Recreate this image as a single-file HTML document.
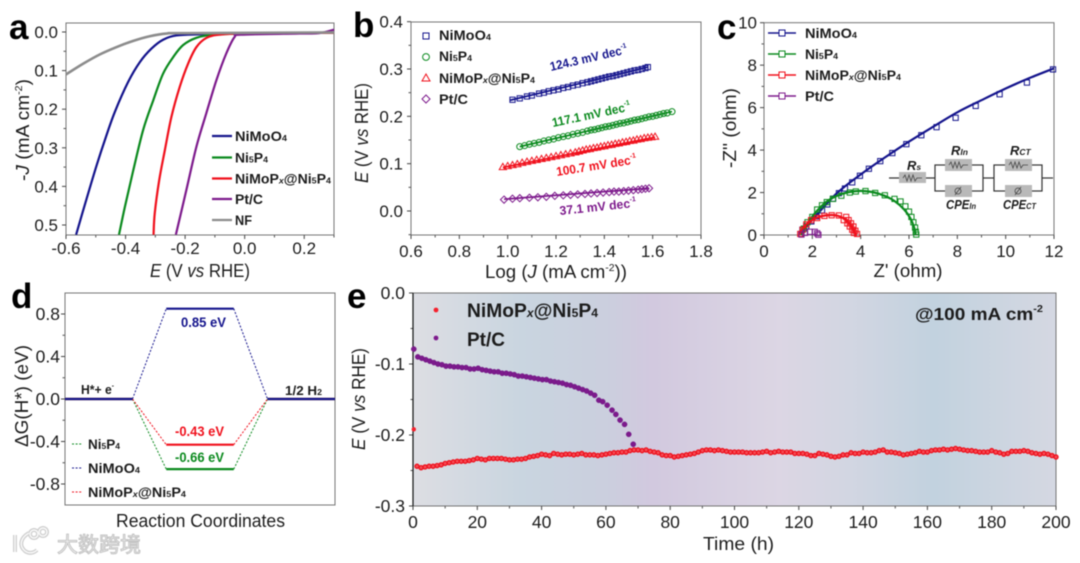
<!DOCTYPE html>
<html lang="en">
<head>
<meta charset="utf-8">
<title>Electrocatalysis chart panels</title>
<style>
html,body{margin:0;padding:0;background:#fff;width:1080px;height:563px;overflow:hidden}
svg{display:block;filter:blur(0.45px)}
text{font-family:"Liberation Sans","Noto Sans CJK SC",sans-serif;fill:#1c1c1c}
.b{font-weight:700}
.t{font-size:18px}
.letter{font-size:35px;font-weight:700;fill:#000}
</style>
</head>
<body>
<svg id="fig" width="1080" height="563" viewBox="0 0 1080 563" xmlns="http://www.w3.org/2000/svg">
<defs>
<linearGradient id="bgE" x1="0" x2="1" y1="0" y2="0">
<stop offset="0" stop-color="#dddee3"/><stop offset="0.17" stop-color="#c9d5e0"/><stop offset="0.30" stop-color="#cbcfde"/><stop offset="0.37" stop-color="#d2c9df"/><stop offset="0.57" stop-color="#dcd6e4"/><stop offset="0.68" stop-color="#d2d6e2"/><stop offset="0.81" stop-color="#c2d2df"/><stop offset="1" stop-color="#d5d8e2"/>
</linearGradient>
</defs>
<rect x="413" y="293" width="643" height="213" fill="url(#bgE)"/>
<g id="plots"></g>

<!-- panel letters -->
<text class="letter" x="9" y="39">a</text>
<text class="letter" x="353" y="37">b</text>
<text class="letter" x="717" y="39">c</text>
<text class="letter" x="11" y="308">d</text>
<text class="letter" x="347" y="308">e</text>

<!-- panel a labels -->
<text class="t" x="150" y="277" textLength="100"><tspan font-style="italic">E</tspan> (V <tspan font-style="italic">vs</tspan> RHE)</text>
<text class="t" transform="translate(29,130) rotate(-90)" text-anchor="middle" textLength="102">-<tspan font-style="italic">J</tspan> (mA cm<tspan font-size="10" dy="-7">-2</tspan><tspan dy="7">)</tspan></text>
<g>
<line x1="212" x2="232" y1="136" y2="136" stroke="#14148c" stroke-width="2.2"/>
<text class="b" x="235" y="141" font-size="13.5" textLength="52">NiMoO<tspan font-size="8.5">4</tspan></text>
<line x1="212" x2="232" y1="157.5" y2="157.5" stroke="#0b8a1e" stroke-width="2.2"/>
<text class="b" x="235" y="162.5" font-size="13.5" textLength="33">Ni<tspan font-size="8.5">5</tspan>P<tspan font-size="8.5">4</tspan></text>
<line x1="212" x2="232" y1="178.5" y2="178.5" stroke="#f0101c" stroke-width="2.2"/>
<text class="b" x="235" y="183.5" font-size="13.5" textLength="96">NiMoP<tspan font-size="8.5" font-style="italic">x</tspan>@Ni<tspan font-size="8.5">5</tspan>P<tspan font-size="8.5">4</tspan></text>
<line x1="212" x2="232" y1="199" y2="199" stroke="#7d1a8c" stroke-width="2.2"/>
<text class="b" x="235" y="204" font-size="13.5" textLength="28">Pt/C</text>
<line x1="212" x2="232" y1="220" y2="220" stroke="#8c8c8c" stroke-width="2.2"/>
<text class="b" x="235" y="225" font-size="13.5" textLength="17">NF</text>
</g>

<!-- panel b labels -->
<text class="t" x="485" y="278" textLength="142">Log (<tspan font-style="italic">J</tspan> (mA cm<tspan font-size="10" dy="-7">-2</tspan><tspan dy="7">))</tspan></text>
<text class="t" transform="translate(368,133) rotate(-90)" text-anchor="middle" textLength="100"><tspan font-style="italic">E</tspan> (V <tspan font-style="italic">vs</tspan> RHE)</text>
<g>
<rect x="423" y="33" width="6" height="6" fill="none" stroke="#14148c"/>
<text class="b" x="439" y="40" font-size="13.5" textLength="52">NiMoO<tspan font-size="8.5">4</tspan></text>
<circle cx="426" cy="57" r="3.4" fill="none" stroke="#0b8a1e"/>
<text class="b" x="439" y="61" font-size="13.5" textLength="33">Ni<tspan font-size="8.5">5</tspan>P<tspan font-size="8.5">4</tspan></text>
<polygon points="426,74 430,81 422,81" fill="none" stroke="#f0101c"/>
<text class="b" x="439" y="83" font-size="13.5" textLength="96">NiMoP<tspan font-size="8.5" font-style="italic">x</tspan>@Ni<tspan font-size="8.5">5</tspan>P<tspan font-size="8.5">4</tspan></text>
<polygon points="426,95 430,99 426,103 422,99" fill="none" stroke="#7d1a8c"/>
<text class="b" x="439" y="104" font-size="13.5" textLength="29">Pt/C</text>
</g>
<text class="b" transform="translate(551,71) rotate(-13)" font-size="12.5" textLength="79" style="fill:#14148c">124.3 mV dec<tspan font-size="7" dy="-6">-1</tspan></text>
<text class="b" transform="translate(553,127) rotate(-12)" font-size="12.5" textLength="80" style="fill:#0b8a1e">117.1 mV dec<tspan font-size="7" dy="-6">-1</tspan></text>
<text class="b" transform="translate(557,176) rotate(-9)" font-size="12.5" textLength="81" style="fill:#f0101c">100.7 mV dec<tspan font-size="7" dy="-6">-1</tspan></text>
<text class="b" transform="translate(560,215) rotate(-6)" font-size="12.5" textLength="77" style="fill:#7d1a8c">37.1 mV dec<tspan font-size="7" dy="-6">-1</tspan></text>

<!-- panel c labels -->
<text class="t" x="873.5" y="277" textLength="69">Z' (ohm)</text>
<text class="t" transform="translate(736,128) rotate(-90)" text-anchor="middle" textLength="80">-Z'' (ohm)</text>
<g>
<line x1="768" x2="796" y1="33" y2="33" stroke="#14148c" stroke-width="1.4"/>
<rect x="779" y="30" width="6" height="6" fill="#fff" stroke="#14148c"/>
<text class="b" x="805" y="38" font-size="13.5" textLength="52">NiMoO<tspan font-size="8.5">4</tspan></text>
<line x1="768" x2="796" y1="54" y2="54" stroke="#0b8a1e" stroke-width="1.4"/>
<rect x="779" y="51" width="6" height="6" fill="#fff" stroke="#0b8a1e"/>
<text class="b" x="805" y="59" font-size="13.5" textLength="33">Ni<tspan font-size="8.5">5</tspan>P<tspan font-size="8.5">4</tspan></text>
<line x1="768" x2="796" y1="75" y2="75" stroke="#f0101c" stroke-width="1.4"/>
<rect x="779" y="72" width="6" height="6" fill="#fff" stroke="#f0101c"/>
<text class="b" x="805" y="80" font-size="13.5" textLength="96">NiMoP<tspan font-size="8.5" font-style="italic">x</tspan>@Ni<tspan font-size="8.5">5</tspan>P<tspan font-size="8.5">4</tspan></text>
<line x1="768" x2="796" y1="96" y2="96" stroke="#7d1a8c" stroke-width="1.4"/>
<rect x="779" y="93" width="6" height="6" fill="#fff" stroke="#7d1a8c"/>
<text class="b" x="805" y="101" font-size="13.5" textLength="29">Pt/C</text>
</g>
<g>
<g fill="none" stroke="#333" stroke-width="1.2">
<line x1="889" x2="935" y1="178" y2="178"/>
<rect x="935" y="165" width="48" height="26"/>
<line x1="983" x2="994" y1="178" y2="178"/>
<rect x="994" y="165" width="48" height="26"/>
<line x1="1042" x2="1053" y1="178" y2="178"/>
</g>
<g fill="#b9b9b9">
<rect x="899" y="172" width="27" height="11"/>
<rect x="945" y="159" width="27" height="12"/>
<rect x="945" y="185" width="27" height="12"/>
<rect x="1005" y="159" width="27" height="12"/>
<rect x="1005" y="185" width="27" height="12"/>
</g>
<g fill="none" stroke="#444" stroke-width="0.8">
<polyline points="903,178 905,175 907,181 909,175 911,181 913,175 915,181 917,178 922,178"/>
<polyline points="949,165 951,162 953,168 955,162 957,168 959,162 961,168 963,165 968,165"/>
<polyline points="1009,165 1011,162 1013,168 1015,162 1017,168 1019,162 1021,168 1023,165 1028,165"/>
<circle cx="958" cy="191" r="3"/><line x1="955" x2="961" y1="195" y2="187"/>
<circle cx="1018" cy="191" r="3"/><line x1="1015" x2="1021" y1="195" y2="187"/>
</g>
<text class="b" x="907" y="170" font-size="13" font-style="italic">R<tspan font-size="8.5">s</tspan></text>
<text class="b" x="951" y="155" font-size="13" font-style="italic">R<tspan font-size="8.5">In</tspan></text>
<text class="b" x="1010" y="155" font-size="13" font-style="italic">R<tspan font-size="8.5">CT</tspan></text>
<text class="b" x="946" y="209" font-size="13" font-style="italic" textLength="30">CPE<tspan font-size="8.5">In</tspan></text>
<text class="b" x="1003" y="209" font-size="13" font-style="italic" textLength="33">CPE<tspan font-size="8.5">CT</tspan></text>
</g>

<!-- panel d labels -->
<text class="t" x="116" y="527" textLength="169">Reaction Coordinates</text>
<text class="t" transform="translate(28,396) rotate(-90)" text-anchor="middle" textLength="102">ΔG(H*) (eV)</text>
<text class="b" x="81" y="394" font-size="13" textLength="33">H*+ e<tspan font-size="7" dy="-6">-</tspan></text>
<text class="b" x="285" y="395" font-size="13" textLength="37">1/2 H<tspan font-size="8.5">2</tspan></text>
<text class="b" x="181" y="327" font-size="13.5" textLength="45" style="fill:#14148c">0.85 eV</text>
<text class="b" x="175" y="436" font-size="13.5" textLength="49" style="fill:#f0101c">-0.43 eV</text>
<text class="b" x="175" y="462" font-size="13.5" textLength="49" style="fill:#0b8a1e">-0.66 eV</text>
<g stroke-dasharray="2 1.6" stroke-width="1">
<line x1="72" x2="82" y1="444" y2="444" stroke="#0b8a1e"/>
<text class="b" x="88" y="449" font-size="13.5" textLength="32">Ni<tspan font-size="8.5">5</tspan>P<tspan font-size="8.5">4</tspan></text>
<line x1="72" x2="82" y1="468" y2="468" stroke="#14148c"/>
<text class="b" x="88" y="473" font-size="13.5" textLength="52">NiMoO<tspan font-size="8.5">4</tspan></text>
<line x1="72" x2="82" y1="492" y2="492" stroke="#f0101c"/>
<text class="b" x="88" y="497" font-size="13.5" textLength="98">NiMoP<tspan font-size="8.5" font-style="italic">x</tspan>@Ni<tspan font-size="8.5">5</tspan>P<tspan font-size="8.5">4</tspan></text>
</g>

<!-- panel e labels -->
<text class="t" x="703" y="550" textLength="71">Time (h)</text>
<text class="t" transform="translate(365,399) rotate(-90)" text-anchor="middle" textLength="102"><tspan font-style="italic">E</tspan> (V <tspan font-style="italic">vs</tspan> RHE)</text>
<g>
<circle cx="436" cy="310" r="2.4" fill="#f5202c"/>
<text class="b" x="467" y="317" font-size="19" textLength="131">NiMoP<tspan font-size="12" font-style="italic">x</tspan>@Ni<tspan font-size="12">5</tspan>P<tspan font-size="12">4</tspan></text>
<circle cx="436" cy="338" r="2.4" fill="#7d1a8c"/>
<text class="b" x="467" y="346" font-size="19" textLength="38">Pt/C</text>
</g>
<text class="b" x="915" y="320" font-size="17.5" textLength="128">@100 mA cm<tspan font-size="10" dy="-8">-2</tspan></text>

<!-- watermark -->
<g>
<g fill="none" stroke="#cfcfcf" stroke-width="4">
<path d="M15 535 L15 552 M29 533 C20 538 19 546 25 551 C29 554 34 553 37 550"/>
<circle cx="34" cy="534" r="4"/><circle cx="43" cy="532" r="4"/>
</g>
<g fill="none" stroke="#fafafa" stroke-width="1.4">
<path d="M15 535 L15 552 M29 533 C20 538 19 546 25 551 C29 554 34 553 37 550"/>
<circle cx="34" cy="534" r="4"/><circle cx="43" cy="532" r="4"/>
</g>
<text x="57" y="552" font-size="21" textLength="84" style="fill:#f4f4f4;stroke:#c4c4c4;stroke-width:1">大数跨境</text>
</g>
</svg>

<script>
// ---------- Panel a data (E in V, -J in mA cm-2) ----------
const aNiMoO4E = [-0.566,-0.532,-0.497,-0.466,-0.436,-0.391,-0.352,-0.313,-0.274,-0.229,-0.150,0,0.3];
const aNiMoO4J = [0.525,0.435,0.345,0.272,0.207,0.129,0.078,0.043,0.020,0.009,0.006,0.004,0.002];
const aNi5P4E = [-0.422,-0.402,-0.374,-0.341,-0.307,-0.274,-0.240,-0.207,-0.162,-0.106,0,0.3];
const aNi5P4J = [0.525,0.452,0.358,0.254,0.177,0.108,0.065,0.034,0.015,0.007,0.004,0.002];
const aNiMoPxE = [-0.306,-0.302,-0.287,-0.268,-0.246,-0.218,-0.190,-0.162,-0.128,-0.084,0,0.3];
const aNiMoPxJ = [0.525,0.470,0.384,0.306,0.220,0.142,0.082,0.039,0.015,0.007,0.004,0.002];
const aPtCE = [-0.231,-0.196,-0.162,-0.129,-0.095,-0.062,-0.034,-0.012,0.184,0.25,0.3];
const aPtCJ = [0.525,0.410,0.297,0.211,0.125,0.056,0.013,0.007,0.004,0.003,-0.006];
const aNFE = [-0.6,-0.542,-0.486,-0.43,-0.374,-0.319,-0.263,-0.196,0.3];
const aNFJ = [0.11,0.082,0.058,0.039,0.023,0.011,0.004,0.003,0.001];
const aXTicks = [-0.6,-0.4,-0.2,0.0,0.2];
const aXTickLabels = ["-0.6","-0.4","-0.2","0.0","0.2"];
const aXMinor = [-0.5,-0.3,-0.1,0.1,0.3];
const aYTicks = [0,0.1,0.2,0.3,0.4,0.5];
const aYTickLabels = ["0.0","0.1","0.2","0.3","0.4","0.5"];
const aYMinor = [0.05,0.15,0.25,0.35,0.45];

// ---------- Panel b data (log J, E) ----------
const bNiMoO4X = [1.02,1.05,1.08,1.10,1.13,1.15,1.17,1.19,1.21,1.23,1.25,1.27,1.29,1.31,1.33,1.345,1.36,1.375,1.39,1.405,1.42,1.435,1.45,1.465,1.48,1.495,1.51,1.525,1.54,1.555,1.57,1.58];
const bNiMoO4Y = [0.235,0.238,0.242,0.244,0.248,0.250,0.253,0.255,0.257,0.260,0.262,0.265,0.267,0.270,0.272,0.274,0.276,0.278,0.280,0.282,0.284,0.285,0.287,0.289,0.291,0.293,0.295,0.297,0.298,0.300,0.302,0.304];
const bNi5P4X = [1.05,1.07,1.09,1.11,1.13,1.15,1.17,1.19,1.21,1.23,1.25,1.27,1.29,1.31,1.33,1.345,1.36,1.375,1.39,1.405,1.42,1.435,1.45,1.465,1.48,1.495,1.51,1.525,1.54,1.555,1.57,1.585,1.6,1.615,1.63,1.645,1.66,1.68];
const bNi5P4Y = [0.136,0.138,0.141,0.143,0.145,0.148,0.150,0.152,0.155,0.157,0.159,0.162,0.164,0.166,0.169,0.171,0.172,0.174,0.176,0.178,0.179,0.181,0.183,0.185,0.186,0.188,0.190,0.192,0.193,0.195,0.197,0.199,0.200,0.202,0.204,0.206,0.207,0.210];
const bNiMoPxX = [0.98,1.0,1.02,1.04,1.06,1.08,1.10,1.12,1.14,1.16,1.18,1.20,1.22,1.24,1.26,1.28,1.295,1.31,1.325,1.34,1.355,1.37,1.385,1.40,1.415,1.43,1.445,1.46,1.475,1.49,1.505,1.52,1.535,1.55,1.565,1.58,1.595,1.61];
const bNiMoPxY = [0.093,0.095,0.097,0.099,0.102,0.104,0.106,0.108,0.110,0.112,0.114,0.116,0.118,0.120,0.122,0.124,0.126,0.128,0.130,0.131,0.133,0.134,0.136,0.137,0.139,0.140,0.142,0.143,0.145,0.146,0.148,0.149,0.151,0.152,0.154,0.155,0.156,0.157];
const bPtCX = [0.985,1.02,1.05,1.09,1.125,1.16,1.195,1.23,1.26,1.29,1.32,1.345,1.37,1.395,1.42,1.44,1.46,1.48,1.50,1.52,1.54,1.555,1.57,1.585];
const bPtCY = [0.024,0.026,0.027,0.028,0.029,0.030,0.032,0.033,0.034,0.035,0.036,0.037,0.038,0.039,0.040,0.041,0.041,0.042,0.043,0.044,0.045,0.046,0.047,0.048];
const bFitNiMoO4X = [1.01,1.58]; const bFitNiMoO4Y = [0.234,0.304];
const bFitNi5P4X = [1.05,1.68]; const bFitNi5P4Y = [0.136,0.210];
const bFitNiMoPxX = [0.98,1.61]; const bFitNiMoPxY = [0.092,0.156];
const bFitPtCX = [0.985,1.585]; const bFitPtCY = [0.025,0.048];
const bXTicks = [0.6,0.8,1.0,1.2,1.4,1.6,1.8];
const bXTickLabels = ["0.6","0.8","1.0","1.2","1.4","1.6","1.8"];
const bXMinor = [0.7,0.9,1.1,1.3,1.5,1.7];
const bYTicks = [0,0.1,0.2,0.3,0.4];
const bYTickLabels = ["0.0","0.1","0.2","0.3","0.4"];
const bYMinor = [-0.05,0.05,0.15,0.25,0.35];

// ---------- Panel c data (Z', -Z'') ----------
const cNiMoO4X = [1.59,1.75,1.96,2.17,2.40,2.62,2.86,3.10,3.35,3.65,3.97,4.34,4.81,5.31,5.89,6.51,7.14,7.93,8.76,9.75,10.88,11.96];
const cNiMoO4Y = [0.25,0.41,0.64,0.88,1.16,1.44,1.71,1.97,2.19,2.48,2.79,3.12,3.48,3.86,4.28,4.70,5.08,5.52,6.08,6.63,7.18,7.80];
const cNiMoO4FitX = [1.5,2,3,4,5,6,7,8,9,10,11,12];
const cNiMoO4FitY = [0.1,0.72,1.95,2.85,3.65,4.4,5.1,5.78,6.35,6.9,7.4,7.85];
const cNi5P4X = [1.55,1.65,1.8,2.0,2.2,2.4,2.6,2.85,3.2,3.55,3.8,4.2,4.6,5.0,5.4,5.65,5.85,6.0,6.1,6.18,6.25,6.28,6.3];
const cNi5P4Y = [0.05,0.3,0.6,0.85,1.2,1.4,1.55,1.7,1.85,2.0,2.05,2.07,1.98,1.87,1.7,1.58,1.35,1.1,0.85,0.6,0.35,0.15,0.02];
const cNi5P4FitX = [1.55,1.8,2.2,2.6,3.0,3.5,4.0,4.5,5.0,5.4,5.8,6.05,6.2,6.28];
const cNi5P4FitY = [0,0.55,1.15,1.58,1.84,2.02,2.08,2.02,1.84,1.6,1.2,0.8,0.4,0];
const cNiMoPxX = [1.5,1.6,1.75,1.95,2.2,2.5,2.8,3.1,3.4,3.3,3.5,3.45,3.6,3.55,3.7,3.65,3.78,3.72,3.85];
const cNiMoPxY = [0.05,0.25,0.5,0.7,0.8,0.9,0.93,0.92,0.85,0.7,0.7,0.55,0.55,0.4,0.4,0.25,0.2,0.1,0.05];
const cNiMoPxFitX = [1.45,1.6,1.85,2.2,2.6,3.0,3.3,3.55,3.72,3.8];
const cNiMoPxFitY = [0,0.3,0.6,0.82,0.93,0.92,0.78,0.52,0.2,0];
const cPtCX = [1.55,1.7,1.9,2.1,2.2,2.25];
const cPtCY = [0.02,0.1,0.15,0.15,0.08,0.01];
const cXTicks = [0,2,4,6,8,10,12];
const cXTickLabels = ["0","2","4","6","8","10","12"];
const cXMinor = [1,3,5,7,9,11];
const cYTicks = [0,2,4,6,8,10];
const cYTickLabels = ["0","2","4","6","8","10"];
const cYMinor = [1,3,5,7,9];

// ---------- Panel d data (free energy levels in eV) ----------
const dNiMoO4Level = [0,0.85,0];
const dNi5P4Level = [0,-0.66,0];
const dNiMoPxLevel = [0,-0.43,0];
const dStepStart = [0,1.5,3];
const dStepEnd = [1,2.5,4];
const dYTicks = [0.8,0.4,0,-0.4,-0.8];
const dYTickLabels = ["0.8","0.4","0.0","-0.4","-0.8"];
const dYMinor = [0.6,0.2,-0.2,-0.6];

// ---------- Panel e data (hours, E) ----------
const eNiMoPxFirstHour = 0;
const eNiMoPxFirstE = -0.192;
const eSampleStepH = 1.25;
const eNiMoPxE = [-0.244,-0.246,-0.245,-0.244,-0.244,-0.243,-0.242,-0.240,-0.239,-0.238,-0.237,-0.237,-0.237,-0.236,-0.235,-0.233,-0.234,-0.235,-0.233,-0.233,-0.233,-0.233,-0.234,-0.235,-0.235,-0.234,-0.234,-0.233,-0.231,-0.230,-0.229,-0.227,-0.228,-0.229,-0.226,-0.227,-0.228,-0.227,-0.227,-0.228,-0.227,-0.226,-0.228,-0.228,-0.228,-0.229,-0.228,-0.227,-0.226,-0.225,-0.225,-0.224,-0.224,-0.222,-0.221,-0.221,-0.222,-0.221,-0.223,-0.224,-0.225,-0.228,-0.229,-0.229,-0.231,-0.230,-0.229,-0.228,-0.227,-0.226,-0.224,-0.222,-0.221,-0.221,-0.222,-0.221,-0.222,-0.223,-0.224,-0.224,-0.224,-0.224,-0.225,-0.225,-0.225,-0.225,-0.224,-0.223,-0.225,-0.224,-0.223,-0.224,-0.224,-0.224,-0.226,-0.226,-0.226,-0.227,-0.229,-0.229,-0.226,-0.227,-0.228,-0.230,-0.231,-0.230,-0.228,-0.228,-0.225,-0.226,-0.226,-0.224,-0.225,-0.225,-0.224,-0.222,-0.221,-0.224,-0.224,-0.225,-0.226,-0.228,-0.227,-0.226,-0.225,-0.223,-0.224,-0.224,-0.222,-0.221,-0.221,-0.220,-0.221,-0.220,-0.219,-0.220,-0.221,-0.222,-0.222,-0.223,-0.224,-0.224,-0.224,-0.222,-0.224,-0.225,-0.227,-0.226,-0.223,-0.223,-0.223,-0.222,-0.223,-0.225,-0.226,-0.227,-0.226,-0.227,-0.229,-0.231];
const ePtCHours = [0.25,1.5,2.75,4,5.25,6.5,7.75,9,10.25,11.5,12.75,14,15.25,16.5,17.75,19,20.25,21.5,22.75,24,25.25,26.5,27.75,29,30.25,31.5,32.75,34,35.25,36.5,37.75,39,40.25,41.5,42.75,44,45.25,46.5,47.75,49,50.25,51.5,52.75,54,55.25,56.5,57.8,59,60.4,61.9,63.1,64.4,65.8,67.1,68.5];
const ePtCE = [-0.079,-0.090,-0.092,-0.094,-0.096,-0.098,-0.100,-0.101,-0.103,-0.103,-0.104,-0.104,-0.105,-0.105,-0.107,-0.107,-0.106,-0.108,-0.109,-0.110,-0.111,-0.111,-0.113,-0.113,-0.114,-0.115,-0.117,-0.117,-0.118,-0.119,-0.120,-0.121,-0.122,-0.122,-0.124,-0.125,-0.126,-0.127,-0.129,-0.130,-0.132,-0.134,-0.136,-0.138,-0.141,-0.144,-0.151,-0.153,-0.158,-0.165,-0.171,-0.179,-0.185,-0.199,-0.213];
const eXTicks = [0,20,40,60,80,100,120,140,160,180,200];
const eXTickLabels = ["0","20","40","60","80","100","120","140","160","180","200"];
const eXMinor = [10,30,50,70,90,110,130,150,170,190];
const eYTicks = [0,-0.1,-0.2,-0.3];
const eYTickLabels = ["0.0","-0.1","-0.2","-0.3"];
const eYMinor = [-0.05,-0.15,-0.25];

// ---------- colours ----------
const NAVY = "#14148c", GREEN = "#0b8a1e", RED = "#f0101c", PURPLE = "#7d1a8c", GRAY = "#8c8c8c";

const SVGNS = "http://www.w3.org/2000/svg";
const plots = document.getElementById("plots");

document.querySelectorAll("text[textLength]").forEach(function (t) {
  t.setAttribute("lengthAdjust", "spacingAndGlyphs");
});

function make(tag, attrs, parent, name) {
  const el = document.createElementNS(SVGNS, tag);
  for (const k in attrs) el.setAttribute(k, attrs[k]);
  
  
  parent.appendChild(el);
  return el;
}
function scale(d0, d1, r0, r1) {
  return v => r0 + (v - d0) / (d1 - d0) * (r1 - r0);
}
function axes(p, name, xs, ys, o) {
  const g = make("g", {}, plots, name + "-axes");
  make("rect", {x:p.x0, y:p.y0, width:p.x1-p.x0, height:p.y1-p.y0, fill:"none", stroke:"#757575", "stroke-width":1}, g, name + "-frame");
  (o.xTicks || []).forEach((t, i) => {
    const x = xs(t);
    make("line", {x1:x, x2:x, y1:p.y1, y2:p.y1+4, stroke:"#444"}, g, name + "-x-tick");
    const lab = make("text", {x:x, y:o.xBase, "text-anchor":"middle", "font-size":o.fs}, g, name + "-x-tick-label");
    lab.textContent = o.xLabels[i];
  });
  (o.xMinor || []).forEach(t => {
    const x = xs(t);
    make("line", {x1:x, x2:x, y1:p.y1, y2:p.y1+2.5, stroke:"#555"}, g, name + "-x-minor-tick");
  });
  o.yTicks.forEach((t, i) => {
    const y = ys(t);
    make("line", {x1:p.x0-4, x2:p.x0, y1:y, y2:y, stroke:"#444"}, g, name + "-y-tick");
    const lab = make("text", {x:o.yRight, y:y+6, "text-anchor":"end", "font-size":o.fs}, g, name + "-y-tick-label");
    lab.textContent = o.yLabels[i];
  });
  (o.yMinor || []).forEach(t => {
    const y = ys(t);
    make("line", {x1:p.x0-2.5, x2:p.x0, y1:y, y2:y, stroke:"#555"}, g, name + "-y-minor-tick");
  });
}
// smooth path through the read points (drawing only)
function curve(xv, yv, xs, ys) {
  const pts = xv.map((v, i) => [xs(v), ys(yv[i])]);
  let d = "M" + pts[0][0].toFixed(2) + " " + pts[0][1].toFixed(2);
  for (let i = 0; i < pts.length - 1; i++) {
    const p0 = pts[i-1] || pts[i], p1 = pts[i], p2 = pts[i+1], p3 = pts[i+2] || p2;
    const c1x = p1[0] + (p2[0]-p0[0])/6, c1y = p1[1] + (p2[1]-p0[1])/6;
    const c2x = p2[0] - (p3[0]-p1[0])/6, c2y = p2[1] - (p3[1]-p1[1])/6;
    d += "C" + [c1x,c1y,c2x,c2y,p2[0],p2[1]].map(n => n.toFixed(2)).join(" ");
  }
  return d;
}
function drawCurve(parent, xv, yv, xs, ys, color, w, name) {
  make("path", {d:curve(xv, yv, xs, ys), fill:"none", stroke:color, "stroke-width":w, "stroke-linejoin":"round"}, parent, name);
}
function marker(parent, kind, x, y, color, name) {
  if (kind === "square") make("rect", {x:x-2.6, y:y-2.6, width:5.2, height:5.2, fill:"none", stroke:color, "stroke-width":1}, parent, name);
  if (kind === "circle") make("circle", {cx:x, cy:y, r:3, fill:"none", stroke:color, "stroke-width":1}, parent, name);
  if (kind === "triangle") make("polygon", {points:[x,y-3.6,x+3.6,y+2.6,x-3.6,y+2.6].join(" "), fill:"none", stroke:color, "stroke-width":1}, parent, name);
  if (kind === "diamond") make("polygon", {points:[x,y-3.6,x+3.6,y,x,y+3.6,x-3.6,y].join(" "), fill:"none", stroke:color, "stroke-width":1}, parent, name);
}

// ---------- Panel a ----------
(function () {
  const p = {x0:66, x1:334, y0:23, y1:235};
  const xs = scale(-0.6, 0.3, p.x0, p.x1);
  const ys = scale(0, 0.5, 32, 225);
  axes(p, "a", xs, ys, {xTicks:aXTicks, xLabels:aXTickLabels, xMinor:aXMinor, yTicks:aYTicks, yLabels:aYTickLabels, yMinor:aYMinor, xBase:254, yRight:58, fs:17});
  const g = make("g", {}, plots, "a-series");
  drawCurve(g, aNiMoO4E, aNiMoO4J, xs, ys, NAVY, 2.2, "a-line-nimoo4");
  drawCurve(g, aNi5P4E, aNi5P4J, xs, ys, GREEN, 2.2, "a-line-ni5p4");
  drawCurve(g, aNiMoPxE, aNiMoPxJ, xs, ys, RED, 2.2, "a-line-nimopx");
  drawCurve(g, aPtCE, aPtCJ, xs, ys, PURPLE, 2.2, "a-line-ptc");
  drawCurve(g, aNFE, aNFJ, xs, ys, GRAY, 2.6, "a-line-nf");
})();

// ---------- Panel b ----------
(function () {
  const p = {x0:411, x1:701, y0:22, y1:235};
  const xs = scale(0.6, 1.8, p.x0, p.x1);
  const ys = scale(0, 0.3, 211, 69);
  axes(p, "b", xs, ys, {xTicks:bXTicks, xLabels:bXTickLabels, xMinor:bXMinor, yTicks:bYTicks, yLabels:bYTickLabels, yMinor:bYMinor, xBase:257, yRight:403, fs:17});
  const g = make("g", {}, plots, "b-series");
  const series = [
    ["square", NAVY, bNiMoO4X, bNiMoO4Y, bFitNiMoO4X, bFitNiMoO4Y, "nimoo4"],
    ["circle", GREEN, bNi5P4X, bNi5P4Y, bFitNi5P4X, bFitNi5P4Y, "ni5p4"],
    ["triangle", RED, bNiMoPxX, bNiMoPxY, bFitNiMoPxX, bFitNiMoPxY, "nimopx"],
    ["diamond", PURPLE, bPtCX, bPtCY, bFitPtCX, bFitPtCY, "ptc"]
  ];
  series.forEach(s => {
    s[2].forEach((v, i) => marker(g, s[0], xs(v), ys(s[3][i]), s[1], "b-point-" + s[6]));
    make("line", {x1:xs(s[4][0]), x2:xs(s[4][1]), y1:ys(s[5][0]), y2:ys(s[5][1]), stroke:s[1], "stroke-width":1.7}, g, "b-fit-line-" + s[6]);
  });
})();

// ---------- Panel c ----------
(function () {
  const p = {x0:764, x1:1054, y0:22.7, y1:235};
  const xs = scale(0, 12, p.x0, p.x1);
  const ys = scale(0, 10, p.y1, p.y0);
  axes(p, "c", xs, ys, {xTicks:cXTicks, xLabels:cXTickLabels, xMinor:cXMinor, yTicks:cYTicks, yLabels:cYTickLabels, yMinor:cYMinor, xBase:257, yRight:757, fs:17});
  const g = make("g", {}, plots, "c-series");
  cNiMoO4X.forEach((v, i) => marker(g, "square", xs(v), ys(cNiMoO4Y[i]), NAVY, "c-point-nimoo4"));
  drawCurve(g, cNiMoO4FitX, cNiMoO4FitY, xs, ys, NAVY, 2.2, "c-fit-nimoo4");
  cNi5P4X.forEach((v, i) => marker(g, "square", xs(v), ys(cNi5P4Y[i]), GREEN, "c-point-ni5p4"));
  drawCurve(g, cNi5P4FitX, cNi5P4FitY, xs, ys, GREEN, 2.2, "c-fit-ni5p4");
  cNiMoPxX.forEach((v, i) => marker(g, "square", xs(v), ys(cNiMoPxY[i]), RED, "c-point-nimopx"));
  drawCurve(g, cNiMoPxFitX, cNiMoPxFitY, xs, ys, RED, 2.2, "c-fit-nimopx");
  cPtCX.forEach((v, i) => marker(g, "square", xs(v), ys(cPtCY[i]), PURPLE, "c-point-ptc"));
})();

// ---------- Panel d ----------
(function () {
  const p = {x0:65, x1:335, y0:293, y1:505};
  const xs = scale(0, 4, p.x0, p.x1);
  const ys = scale(0, 0.8, 399, 314);
  axes(p, "d", xs, ys, {yTicks:dYTicks, yLabels:dYTickLabels, yMinor:dYMinor, yRight:60, fs:17.5});
  const g = make("g", {}, plots, "d-series");
  const series = [
    [dNi5P4Level, GREEN, "ni5p4"],
    [dNiMoPxLevel, RED, "nimopx"],
    [dNiMoO4Level, NAVY, "nimoo4"]
  ];
  series.forEach(s => {
    s[0].forEach((v, i) => {
      if (i > 0) {
        make("line", {x1:xs(dStepEnd[i-1]), x2:xs(dStepStart[i]), y1:ys(s[0][i-1]), y2:ys(v), stroke:s[1], "stroke-width":1, "stroke-dasharray":"2 1.6"}, g, "d-connector-" + s[2]);
      }
    });
    s[0].forEach((v, i) => {
      make("line", {x1:xs(dStepStart[i]), x2:xs(dStepEnd[i]), y1:ys(v), y2:ys(v), stroke:s[1], "stroke-width":2.2}, g, "d-level-" + s[2]);
    });
  });
})();

// ---------- Panel e ----------
(function () {
  const p = {x0:413, x1:1056, y0:293, y1:506};
  const xs = scale(0, 200, p.x0, p.x1);
  const ys = scale(0, -0.3, p.y0, p.y1);
  axes(p, "e", xs, ys, {xTicks:eXTicks, xLabels:eXTickLabels, xMinor:eXMinor, yTicks:eYTicks, yLabels:eYTickLabels, yMinor:eYMinor, xBase:528, yRight:405, fs:17.5});
  make("line", {x1:p.x0, x2:p.x0, y1:p.y0, y2:p.y1, stroke:"#111", "stroke-width":1.2}, plots, "e-y-axis-line");
  const g = make("g", {}, plots, "e-series");
  make("circle", {cx:xs(eNiMoPxFirstHour)+0.8, cy:ys(eNiMoPxFirstE), r:2.2, fill:"#f5202c"}, g, "e-point-nimopx");
  eNiMoPxE.forEach((v, i) => {
    make("circle", {cx:xs((i + 1) * eSampleStepH), cy:ys(v), r:2.1, fill:"#f44a54", stroke:"#ee0c18", "stroke-width":1.2}, g, "e-point-nimopx");
  });
  ePtCE.forEach((v, i) => {
    make("circle", {cx:xs(ePtCHours[i]), cy:ys(v), r:2.6, fill:PURPLE, stroke:"#6a1580", "stroke-width":0.4}, g, "e-point-ptc");
  });
})();
</script>
</body>
</html>
